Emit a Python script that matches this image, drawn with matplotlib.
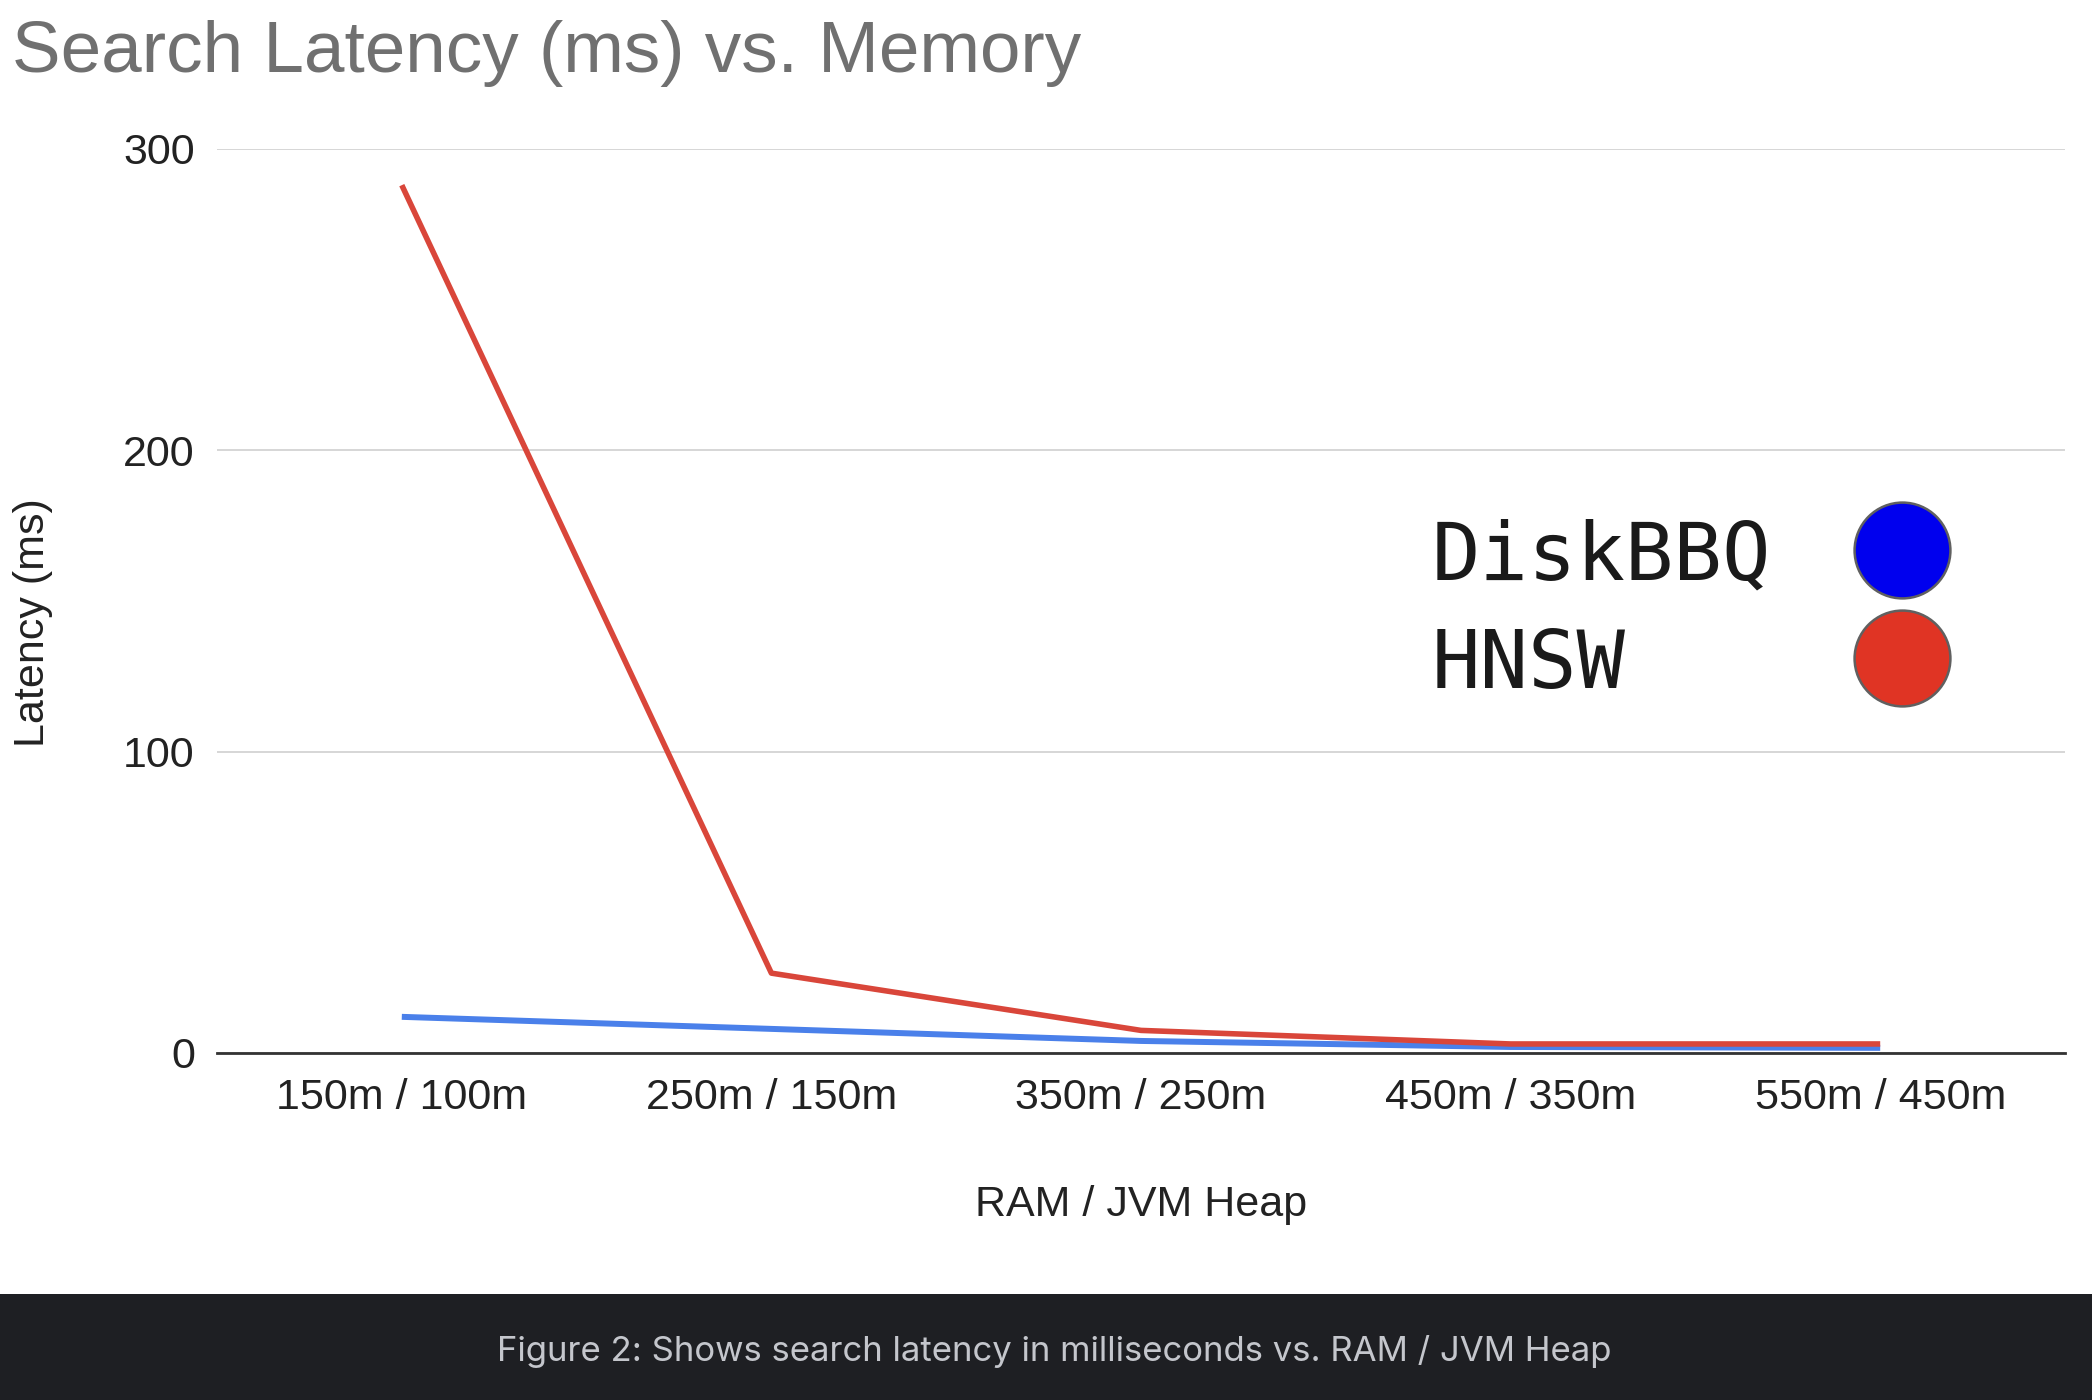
import matplotlib
matplotlib.use("Agg")
import matplotlib.pyplot as plt
from matplotlib.patches import Rectangle

categories = ["150m / 100m", "250m / 150m", "350m / 250m", "450m / 350m", "550m / 450m"]
diskbbq = [12, 8, 4, 2, 1.7]
hnsw = [288, 26.5, 7.5, 3, 3]
yticks = [0, 100, 200, 300]

W, H = 2092, 1400
fig = plt.figure(figsize=(W / 100, H / 100), dpi=100)
fig.patch.set_facecolor("white")

ax = fig.add_axes([217 / W, 1 - 1053 / H, 1848 / W, 904 / H])
x = list(range(len(categories)))
ax.plot(x, diskbbq, color="#4a80ea", lw=4.3, solid_capstyle="butt", zorder=3)
ax.plot(x, hnsw, color="#d9463a", lw=4.0, solid_capstyle="butt", zorder=4)

ax.set_xlim(-0.5, len(categories) - 0.5)
ax.set_ylim(0, 300)
ax.set_yticks(yticks)
ax.set_xticks(x)
ax.set_xticklabels(categories)
for s in ["top", "right", "left"]:
    ax.spines[s].set_visible(False)
ax.spines["bottom"].set_color("#333333")
ax.spines["bottom"].set_linewidth(2)
ax.spines["bottom"].set_zorder(5)
ax.tick_params(axis="both", length=0, labelsize=31, labelcolor="#222222")
ax.tick_params(axis="y", pad=16)
ax.tick_params(axis="x", pad=18)
ax.grid(axis="y", color="#d3d3d3", lw=1.3)
ax.set_axisbelow(True)
for lab in ax.get_xticklabels() + ax.get_yticklabels():
    lab.set_family("Liberation Sans")

ax.set_xlabel("RAM / JVM Heap", fontsize=31, family="Liberation Sans", color="#222222", va="center")
ax.xaxis.set_label_coords(0.5, -0.168)
ax.set_ylabel("Latency (ms)", fontsize=31, family="Liberation Sans", color="#222222", va="center")
ax.yaxis.set_label_coords(-0.0996, 0.476)

fig.text(12 / W, 1 - 72 / H, "Search Latency (ms) vs. Memory", fontsize=52.5,
         family="Liberation Sans", color="#707070", ha="left", va="baseline")

# legend (image-like overlay)
leg_labels = ["DiskBBQ", "HNSW"]
leg_colors = ["#0000ee", "#e03424"]
leg_base = [579, 688]
leg_circ = [550, 658]
for lab, c, yb, yc in zip(leg_labels, leg_colors, leg_base, leg_circ):
    fig.text(1432 / W, 1 - yb / H, lab, fontsize=58, family="DejaVu Sans Mono",
             color="#1a1a1a", ha="left", va="baseline")
    ax.plot([1902 / W], [1 - yc / H], marker="o", ms=69, mfc=c, mec="#606060", mew=1.8,
            transform=fig.transFigure, clip_on=False, zorder=10)

# caption bar
fig.add_artist(Rectangle((0, 0), 1, 1 - 1294 / H, transform=fig.transFigure,
                         facecolor="#1e1f23", edgecolor="none", zorder=0))
fig.text(0.504, 1 - 1351 / H, "Figure 2: Shows search latency in milliseconds vs. RAM / JVM Heap",
         fontsize=25, family="Inter", color="#c4c6cc", ha="center", va="center")

fig.savefig("out.png", dpi=100)
